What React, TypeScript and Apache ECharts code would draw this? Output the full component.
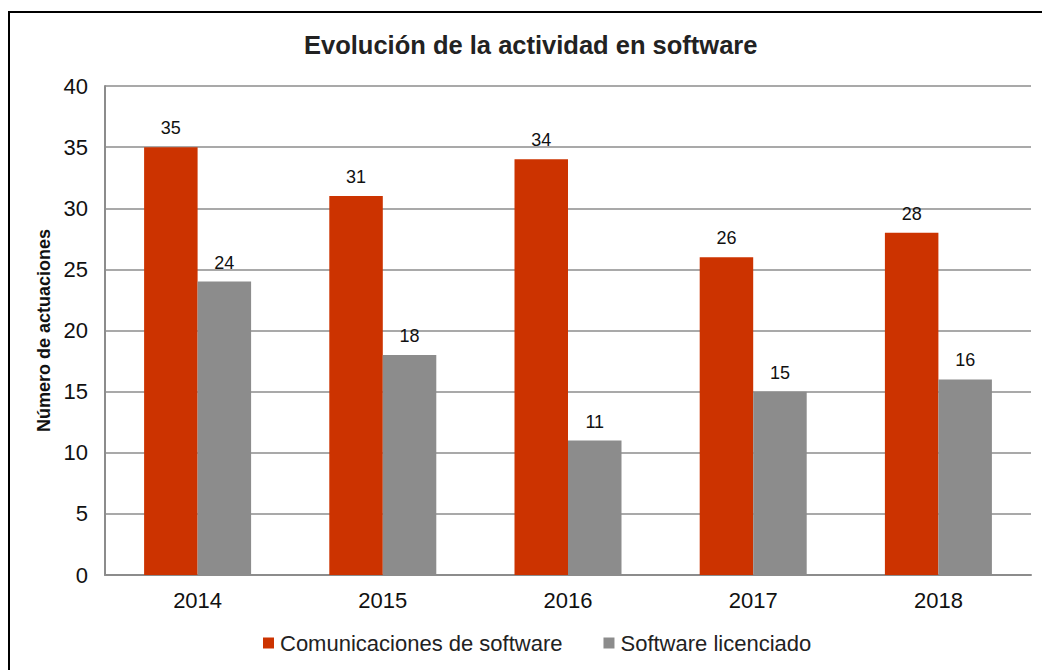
import React, { useEffect, useRef } from "react";
import * as echarts from "echarts";

const categories = ["2014", "2015", "2016", "2017", "2018"];
const comunicaciones = [35, 31, 34, 26, 28];
const licenciado = [24, 18, 11, 15, 16];
const seriesNames = ["Comunicaciones de software", "Software licenciado"];
const titleText = "Evolución de la actividad en software";
const yAxisName = "Número de actuaciones";

const FONT = "Arial, 'Liberation Sans', Helvetica, sans-serif";

export default function App() {
  const ref = useRef<HTMLDivElement>(null);
  useEffect(() => {
    if (!ref.current) return;
    const chart = echarts.init(ref.current, null, { renderer: "svg" });
    chart.setOption({
      animation: false,
      backgroundColor: "#ffffff",
      textStyle: { fontFamily: FONT },
      title: {
        text: titleText,
        left: 304,
        top: 32,
        padding: 0,
        textStyle: { fontFamily: FONT, fontSize: 25.5, fontWeight: "bold", color: "#222222" },
      },
      graphic: [
        {
          type: "rect",
          shape: { x: 9, y: 12, width: 1100, height: 700 },
          style: { fill: "none", stroke: "#000000", lineWidth: 2 },
          z: 100,
          silent: true,
        },
      ],
      legend: {
        top: 632,
        left: 263,
        padding: 0,
        itemWidth: 11,
        itemHeight: 11,
        itemGap: 41,
        icon: "rect",
        textStyle: { fontFamily: FONT, fontSize: 22, color: "#222222", padding: [0, 0, 0, 1] },
        data: seriesNames,
      },
      grid: { left: 105, right: 11, top: 86, bottom: 95, containLabel: false },
      xAxis: {
        type: "category",
        data: categories,
        axisLine: { lineStyle: { color: "#8c8c8c", width: 2 } },
        axisTick: { show: false },
        axisLabel: { fontFamily: FONT, fontSize: 22, color: "#111111", margin: 14 },
      },
      yAxis: {
        type: "value",
        min: 0,
        max: 40,
        interval: 5,
        name: yAxisName,
        nameLocation: "middle",
        nameGap: 44,
        nameTextStyle: { fontFamily: FONT, fontSize: 18, fontWeight: "bold", color: "#111111" },
        axisLine: { show: true, lineStyle: { color: "#8c8c8c", width: 2 } },
        axisTick: { show: false },
        splitLine: { lineStyle: { color: "#8c8c8c", width: 1.5 } },
        axisLabel: { fontFamily: FONT, fontSize: 22, color: "#111111", margin: 17 },
      },
      series: [
        {
          name: seriesNames[0],
          type: "bar",
          data: comunicaciones,
          barWidth: 53.5,
          barGap: "0%",
          itemStyle: { color: "#cc3300" },
          label: { show: true, position: "top", distance: 10, fontFamily: FONT, fontSize: 18, color: "#111111" },
        },
        {
          name: seriesNames[1],
          type: "bar",
          data: licenciado,
          barWidth: 53.5,
          barGap: "0%",
          itemStyle: { color: "#8c8c8c" },
          label: { show: true, position: "top", distance: 10, fontFamily: FONT, fontSize: 18, color: "#111111" },
        },
      ],
    });
    return () => chart.dispose();
  }, []);
  return (
    <div
      ref={ref}
      style={{ position: "fixed", left: 0, top: 0, width: 1042, height: 670 }}
    />
  );
}
